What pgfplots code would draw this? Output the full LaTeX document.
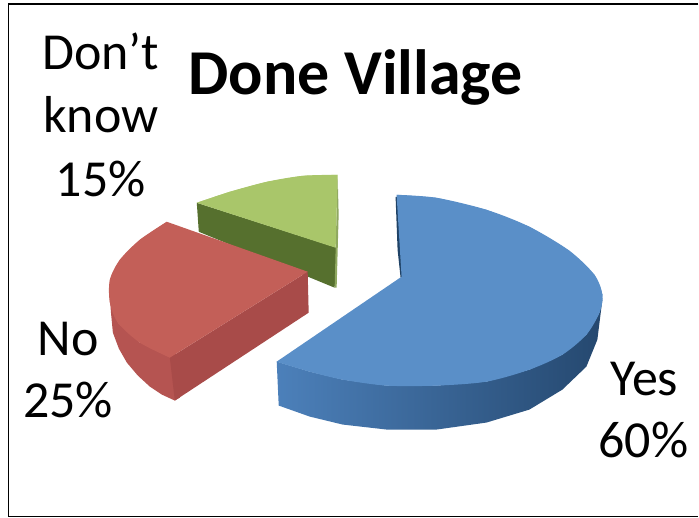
\documentclass[border=0pt]{standalone}
\usepackage{pgfplots}
\pgfplotsset{compat=1.18}
\usepackage{fontspec}
\setmainfont{Carlito}
\definecolor{bluetop}{HTML}{5A8FC8}
\definecolor{blueL}{HTML}{4C80BA}
\definecolor{blueM}{HTML}{2F5C8C}
\definecolor{blueR}{HTML}{25486F}
\definecolor{bluein}{HTML}{1F4266}
\definecolor{redtop}{HTML}{C35F58}
\definecolor{redside}{HTML}{A84B49}
\definecolor{redout}{HTML}{B55451}
\definecolor{greentop}{HTML}{A9C66A}
\definecolor{greenside}{HTML}{56702E}
\definecolor{greenedge}{HTML}{8FA860}
\begin{document}
\begin{tikzpicture}[x=1pt,y=1pt]
\begin{axis}[
  scale only axis,
  width=524.25pt, height=388.5pt,
  xmin=0, xmax=699, ymin=0, ymax=518,
  y dir=reverse,
  axis lines=none,
  clip=false,
  every axis plot/.append style={draw=none, mark=none},
]
% outer bounds and chart frame
\addplot[draw=none] coordinates {(0,0) (699,518)};
\addplot[draw=black, line width=1.1pt] coordinates {(699,4) (8.5,4) (8.5,517) (699,517)};

% Don't know: 15%
\addplot[fill=greenside] coordinates {(197,203) (199,232) (335,288) (337,248)};
\addplot[fill=greenedge] coordinates {(338,175) (336,248) (335,288) (337,288) (339,215)};
\addplot[fill=greentop] coordinates {(338,175) (336,248) (197,203) (230,192) (267,182) (303,176)};
\addplot[fill=greentop, smooth] coordinates {(197,203) (230,192) (267,182) (303,176) (338,175)};

% No: 25%
\addplot[fill=redout] coordinates {(110,296) (111,312) (113,333) (119,349) (127,363) (138,376) (150,387) (162,395) (175,401) (180,398) (176,354) (140,343) (118,323)};
\addplot[fill=redside] coordinates {(170,358) (308,272) (309,313) (175,401)};
\addplot[fill=redtop] coordinates {(167,222) (308,272) (170,358) (140,343) (118,323) (110,303) (110,280) (120,260) (140,240)};
\addplot[fill=redtop, smooth] coordinates {(167,222) (140,240) (120,260) (110,280) (110,303) (118,323) (140,343) (170,358)};

% Yes: 60%
\addplot[fill=bluein] coordinates {(396,197) (398,250) (401,278) (404,277) (400,197)};
\addplot[left color=blueL, middle color=blueM, right color=blueR] coordinates
  {(277,362) (279,406) (310,417) (343,425) (387,430) (437,430) (487,423) (530,410) (563,390) (587,367) (598,340) (603,300)
   (600,313) (587,335) (563,355) (530,370) (487,382) (437,386) (387,386) (343,380) (310,372)};
\addplot[fill=bluetop] coordinates
  {(397,195) (402,277) (277,362) (310,372) (343,380) (387,386) (437,386) (487,382) (530,370) (563,355) (587,335) (600,313)
   (603,295) (595,275) (570,251) (530,227) (487,210) (437,198)};
\addplot[fill=bluetop, smooth] coordinates
  {(397,195) (437,198) (487,210) (530,227) (570,251) (595,275) (603,295) (600,313) (587,335)};
\addplot[fill=bluetop, smooth] coordinates
  {(595,275) (603,295) (600,313) (587,335) (563,355) (530,370) (487,382)
   (437,386) (387,386) (343,380) (310,372) (277,362)};

% title and data labels
\node[anchor=base, font=\fontsize{48}{48}\selectfont\bfseries] at (axis cs:356,95) {Done Village};
\node[anchor=base, font=\fontsize{39}{39}\selectfont] at (axis cs:101,70) {Don’t};
\node[anchor=base, font=\fontsize{39}{39}\selectfont] at (axis cs:101,133) {know};
\node[anchor=base, font=\fontsize{39}{39}\selectfont] at (axis cs:101,197) {15\%};
\node[anchor=base, font=\fontsize{39}{39}\selectfont] at (axis cs:68,356) {No};
\node[anchor=base, font=\fontsize{39}{39}\selectfont] at (axis cs:68,418) {25\%};
\node[anchor=base, font=\fontsize{39}{39}\selectfont] at (axis cs:645,396) {Yes};
\node[anchor=base, font=\fontsize{39}{39}\selectfont] at (axis cs:644,458) {60\%};
\end{axis}
\end{tikzpicture}
\end{document}
